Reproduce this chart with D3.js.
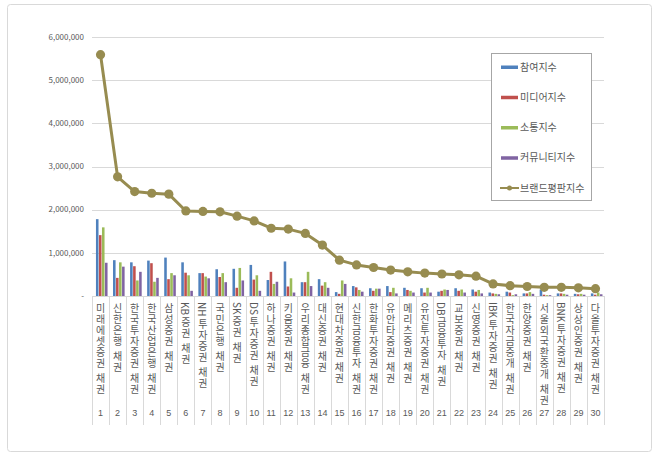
<!DOCTYPE html>
<html>
<head>
<meta charset="utf-8">
<script src="https://cdn.jsdelivr.net/npm/d3@7"></script>
<style>
  body { margin: 0; background: #fff; }
  svg { display: block; font-family: "Noto Sans CJK KR", "Noto Sans", sans-serif; }
  .tick-label { font-size: 8px; fill: #595959; }
  .cat-label text { font-size: 10px; fill: #595959; }
  .rank-label { font-size: 9px; fill: #595959; font-family: "Liberation Sans", sans-serif; }
  .legend text { font-size: 10px; fill: #595959; }
</style>
</head>
<body>
<div id="chart"></div>
<script>
const categories = [
  "미래에셋증권 채권", "신한은행 채권", "한국투자증권 채권", "한국산업은행 채권", "삼성증권 채권",
  "KB증권 채권", "NH투자증권 채권", "국민은행 채권", "SK증권 채권", "DS투자증권 채권",
  "하나증권 채권", "키움증권 채권", "우리종합금융 채권", "대신증권 채권", "현대차증권 채권",
  "신한금융투자 채권", "한화투자증권 채권", "유안타증권 채권", "메리츠증권 채권", "유진투자증권 채권",
  "DB금융투자 채권", "교보증권 채권", "신영증권 채권", "IBK투자증권 채권", "한국자금중개 채권",
  "한양증권 채권", "서울외국환중개 채권", "BNK투자증권 채권", "상상인증권 채권", "다올투자증권 채권"
]
const ranks = d3.range(1, 31)

const seriesNames = ["참여지수", "미디어지수", "소통지수", "커뮤니티지수"]
const lineName = "브랜드평판지수"
const seriesColors = ["#4F81BD", "#C0504D", "#9BBB59", "#8064A2"]
const lineColor = "#978C50"

// values in units
const participation = [1780000, 830000, 780000, 820000, 890000, 780000, 530000, 620000, 630000, 720000,
  370000, 800000, 320000, 390000, 90000, 230000, 180000, 230000, 190000, 180000,
  100000, 180000, 150000, 80000, 100000, 60000, 150000, 60000, 50000, 60000]
const media = [1410000, 420000, 690000, 760000, 390000, 540000, 530000, 440000, 190000, 380000,
  560000, 220000, 320000, 240000, 50000, 200000, 120000, 90000, 140000, 80000,
  120000, 120000, 100000, 60000, 80000, 60000, 30000, 60000, 40000, 30000]
const communication = [1590000, 780000, 360000, 330000, 530000, 480000, 450000, 530000, 650000, 480000,
  280000, 410000, 560000, 320000, 360000, 140000, 170000, 190000, 120000, 190000,
  150000, 150000, 140000, 50000, 20000, 90000, 20000, 50000, 50000, 80000]
const community = [770000, 680000, 560000, 420000, 480000, 120000, 410000, 320000, 360000, 120000,
  330000, 80000, 230000, 190000, 280000, 100000, 170000, 60000, 80000, 80000,
  140000, 80000, 60000, 40000, 40000, 50000, 20000, 30000, 30000, 40000]
const brandIndex = [5590000, 2760000, 2420000, 2380000, 2360000, 1970000, 1960000, 1950000, 1850000, 1740000,
  1570000, 1550000, 1450000, 1180000, 830000, 720000, 660000, 600000, 560000, 530000,
  510000, 490000, 460000, 280000, 240000, 220000, 200000, 200000, 190000, 170000]

const yTicks = [0, 1000000, 2000000, 3000000, 4000000, 5000000, 6000000]

const width = 660
const height = 459
const margin = { top: 37, right: 56, bottom: 163, left: 92 }
const innerWidth = width - margin.left - margin.right
const innerHeight = height - margin.top - margin.bottom

const svg = d3.select("#chart").append("svg")
  .attr("width", width)
  .attr("height", height)

// outer frame
svg.append("rect")
  .attr("x", 7.5).attr("y", 4.5)
  .attr("width", 644).attr("height", 447)
  .attr("rx", 3)
  .attr("fill", "#fff")
  .attr("stroke", "#d9d9d9")

const g = svg.append("g")
  .attr("transform", `translate(${margin.left},${margin.top})`)

const y = d3.scaleLinear().domain([0, 6000000]).range([innerHeight, 0])
const x = d3.scaleBand().domain(ranks).range([0, innerWidth])
const xs = d3.scaleBand().domain(d3.range(4)).range([3.5, 16]).padding(0.15)

// grid
g.append("g").selectAll("line")
  .data(yTicks.slice(1))
  .join("line")
  .attr("x1", 0).attr("x2", innerWidth)
  .attr("y1", d => Math.round(y(d)) + 0.5)
  .attr("y2", d => Math.round(y(d)) + 0.5)
  .attr("stroke", "#d9d9d9")

// y tick labels
g.append("g").selectAll("text")
  .data(yTicks)
  .join("text")
  .attr("class", "tick-label")
  .attr("x", -8)
  .attr("y", d => y(d))
  .attr("dy", "0.35em")
  .attr("text-anchor", "end")
  .text(d => d === 0 ? "-" : d3.format(",")(d))

// category separators
g.append("g").selectAll("line")
  .data(d3.range(31))
  .join("line")
  .attr("x1", d => Math.round(d * x.step()) + 0.5)
  .attr("x2", d => Math.round(d * x.step()) + 0.5)
  .attr("y1", innerHeight)
  .attr("y2", innerHeight + 129)
  .attr("stroke", "#d9d9d9")

// x axis line
g.append("line")
  .attr("x1", 0).attr("x2", innerWidth)
  .attr("y1", innerHeight + 0.5).attr("y2", innerHeight + 0.5)
  .attr("stroke", "#d9d9d9")

// bars
const seriesData = [participation, media, communication, community]
seriesData.forEach((vals, si) => {
  g.append("g").selectAll("rect")
    .data(vals)
    .join("rect")
    .attr("x", (d, i) => x(ranks[i]) + xs(si))
    .attr("width", xs.bandwidth())
    .attr("y", d => y(d))
    .attr("height", d => innerHeight - y(d))
    .attr("fill", seriesColors[si])
})

// brand index line
const line = d3.line()
  .x((d, i) => x(ranks[i]) + x.bandwidth() / 2)
  .y(d => y(d))

g.append("path")
  .datum(brandIndex)
  .attr("d", line)
  .attr("fill", "none")
  .attr("stroke", lineColor)
  .attr("stroke-width", 3)
  .attr("stroke-linejoin", "round")

g.append("g").selectAll("circle")
  .data(brandIndex)
  .join("circle")
  .attr("cx", (d, i) => x(ranks[i]) + x.bandwidth() / 2)
  .attr("cy", d => y(d))
  .attr("r", 4.6)
  .attr("fill", lineColor)

// category labels, stacked one glyph at a time (latin runs turned sideways)
const charStep = 11
const labels = g.append("g").attr("class", "cat-label")
categories.forEach((label, i) => {
  const cx = x(ranks[i]) + x.bandwidth() / 2
  const lg = labels.append("g")
  let cursor = innerHeight + 6
  const tokens = label.match(/[A-Za-z0-9]+|\s|./g)
  tokens.forEach(tok => {
    if (tok === " ") {
      cursor += 4
    } else if (/^[A-Za-z0-9]+$/.test(tok)) {
      const t = lg.append("text")
        .attr("text-anchor", "start")
        .attr("dominant-baseline", "central")
        .attr("transform", `translate(${cx},${cursor}) rotate(90)`)
        .text(tok)
      cursor += t.node().getComputedTextLength() + 1
    } else {
      lg.append("text")
        .attr("x", cx)
        .attr("y", cursor + charStep / 2)
        .attr("text-anchor", "middle")
        .attr("dominant-baseline", "central")
        .text(tok)
      cursor += charStep
    }
  })
})

g.append("g").selectAll("text")
  .data(ranks)
  .join("text")
  .attr("class", "rank-label")
  .attr("x", d => x(d) + x.bandwidth() / 2)
  .attr("y", innerHeight + 120)
  .attr("text-anchor", "middle")
  .text(d => d)

// legend
const legend = svg.append("g").attr("class", "legend")
legend.append("rect")
  .attr("x", 491.5).attr("y", 53.5)
  .attr("width", 100).attr("height", 147)
  .attr("fill", "#fff")
  .attr("stroke", "#a6a6a6")

const legendItems = seriesNames.concat([lineName])
const legendY = d3.scalePoint().domain(d3.range(5)).range([67, 188])

legendItems.forEach((name, i) => {
  const ly = legendY(i)
  if (i < 4) {
    legend.append("rect")
      .attr("x", 501).attr("y", ly - 1.5)
      .attr("width", 17).attr("height", 3.5)
      .attr("fill", seriesColors[i])
  } else {
    legend.append("line")
      .attr("x1", 500).attr("x2", 519)
      .attr("y1", ly).attr("y2", ly)
      .attr("stroke", lineColor).attr("stroke-width", 2)
    legend.append("circle")
      .attr("cx", 509.5).attr("cy", ly).attr("r", 2.5)
      .attr("fill", lineColor)
  }
  legend.append("text")
    .attr("x", 520).attr("y", ly)
    .attr("dy", "0.35em")
    .text(name)
})
</script>
</body>
</html>
